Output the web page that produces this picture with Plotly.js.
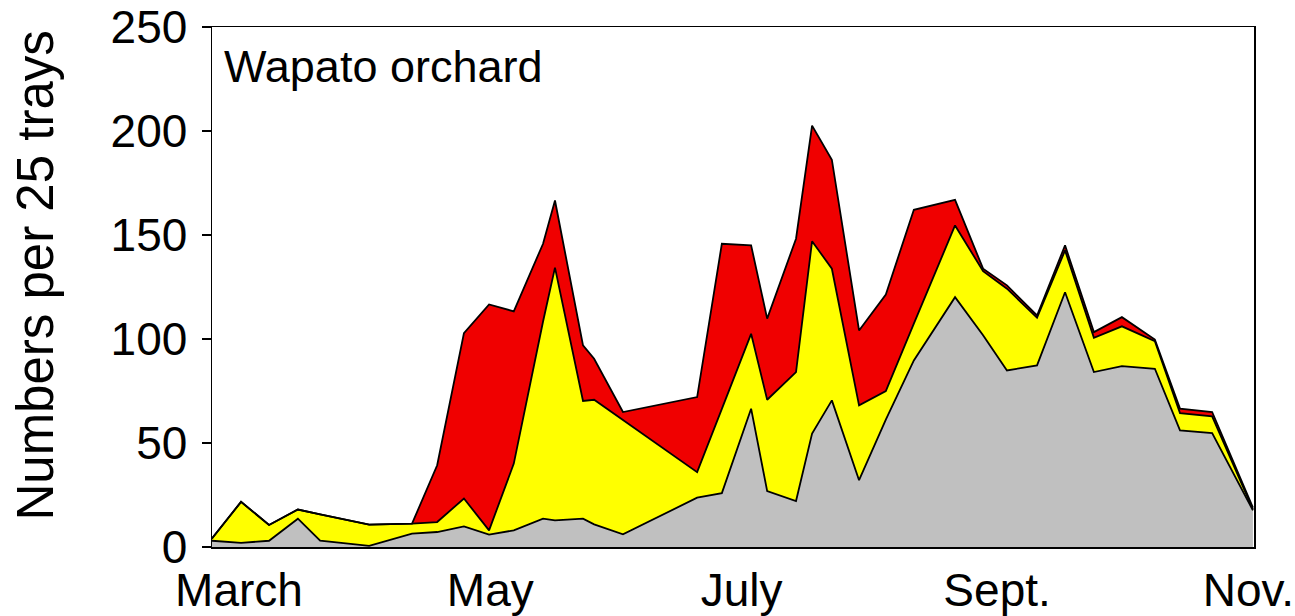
<!DOCTYPE html>
<html>
<head>
<meta charset="utf-8">
<script src="https://cdn.plot.ly/plotly-3.0.1.min.js"></script>
<style>
html, body { margin: 0; padding: 0; background: #ffffff; }
#chart { width: 1295px; height: 616px; }
</style>
</head>
<body>
<div id="chart"></div>
<script>
// Sampling dates (day of year) and counts per category
const sampleDay = [53.4, 60.5, 67.3, 74.3, 79.7, 91.6, 102.0, 108.1, 114.6, 120.7,
  126.7, 133.8, 136.7, 143.5, 146.2, 153.2, 171.2, 177.2, 184.3, 188.2,
  195.2, 199.1, 203.9, 210.5, 217.0, 223.8, 233.8, 240.6, 246.4, 253.7,
  260.5, 267.5, 274.3, 282.3, 288.4, 296.2, 306.1];

const grayCounts = [3, 2, 3, 13.6, 3, 0.5, 6.4, 7.2, 9.9, 6.0,
  8.0, 13.6, 12.8, 13.6, 10.9, 6.1, 23.7, 25.9, 66.5, 26.9,
  22.1, 54.5, 70.5, 32.1, 61.2, 89.7, 120.1, 101.8, 84.9, 87.3,
  122.5, 84.1, 87.0, 85.7, 56.1, 54.8, 17.6];

const yellowCounts = [1, 19.7, 7.6, 4.4, 12.7, 10.3, 4.8, 4.8, 13.4, 2.0,
  32.1, 94.8, 121.5, 56.6, 59.9, 54.9, 12.3, 40.5, 36.0, 43.9,
  62.0, 92.5, 63.3, 36.0, 13.8, 17.7, 34.5, 30.8, 39.3, 22.9,
  20.1, 16.5, 19.1, 13.3, 8.3, 8.0, 0.5];

const redCounts = [0, 0, 0, 0, 0, 0, 0, 27.3, 79.5, 108.6,
  73.2, 37.4, 32.3, 26.7, 19.7, 3.9, 36.1, 79.4, 42.5, 39.0,
  64.1, 55.6, 52.4, 36.0, 46.4, 54.7, 12.3, 1.2, 1.6, 1.1,
  2.4, 2.7, 4.4, 0.7, 2.1, 2.1, 0.8];

const monthTickDays = [60, 121, 182, 244, 305];
const monthTickLabels = ['March', 'May', 'July', 'Sept.', 'Nov.'];
const yTickVals = [0, 50, 100, 150, 200, 250];

const FONT = "'Liberation Sans', Arial, sans-serif";
const outline = { color: '#000000', width: 1.8, shape: 'linear' };

const traces = [
  { x: sampleDay, y: grayCounts, type: 'scatter', mode: 'lines', stackgroup: 'one',
    line: outline, fillcolor: '#c0c0c0', name: 'gray', hoverinfo: 'x+y' },
  { x: sampleDay, y: yellowCounts, type: 'scatter', mode: 'lines', stackgroup: 'one',
    line: outline, fillcolor: '#ffff00', name: 'yellow', hoverinfo: 'x+y' },
  { x: sampleDay, y: redCounts, type: 'scatter', mode: 'lines', stackgroup: 'one',
    line: outline, fillcolor: '#f00000', name: 'red', hoverinfo: 'x+y' }
];

const layout = {
  width: 1295,
  height: 616,
  margin: { l: 212, r: 41, t: 27, b: 69, pad: 0 },
  paper_bgcolor: '#ffffff',
  plot_bgcolor: '#ffffff',
  showlegend: false,
  font: { family: FONT, color: '#000000' },
  xaxis: {
    range: [53.45, 306.36],
    tickvals: monthTickDays,
    ticktext: monthTickLabels,
    ticks: '',
    ticklabelstandoff: 2,
    showgrid: false,
    zeroline: false,
    showline: true,
    mirror: true,
    linecolor: '#000000',
    linewidth: 1.5,
    tickfont: { family: FONT, size: 46, color: '#000000' },
    fixedrange: true
  },
  yaxis: {
    range: [0, 250],
    tickvals: yTickVals,
    ticks: 'outside',
    ticklen: 9,
    tickwidth: 1.5,
    tickcolor: '#000000',
    ticklabelstandoff: 5,
    showgrid: false,
    zeroline: false,
    showline: true,
    mirror: true,
    linecolor: '#000000',
    linewidth: 1.5,
    tickfont: { family: FONT, size: 46, color: '#000000' },
    fixedrange: true
  },
  annotations: [
    { text: 'Wapato orchard', xref: 'paper', yref: 'paper', x: 0.0096, y: 0.924,
      xanchor: 'left', yanchor: 'middle', showarrow: false,
      font: { family: FONT, size: 45, color: '#000000' } },
    { text: 'Numbers per 25 trays', xref: 'paper', yref: 'paper', x: -0.1689, y: 0.522,
      xanchor: 'center', yanchor: 'middle', showarrow: false, textangle: -90,
      font: { family: FONT, size: 51, color: '#000000' } }
  ]
};

Plotly.newPlot('chart', traces, layout, { displayModeBar: false, staticPlot: true });
</script>
</body>
</html>
